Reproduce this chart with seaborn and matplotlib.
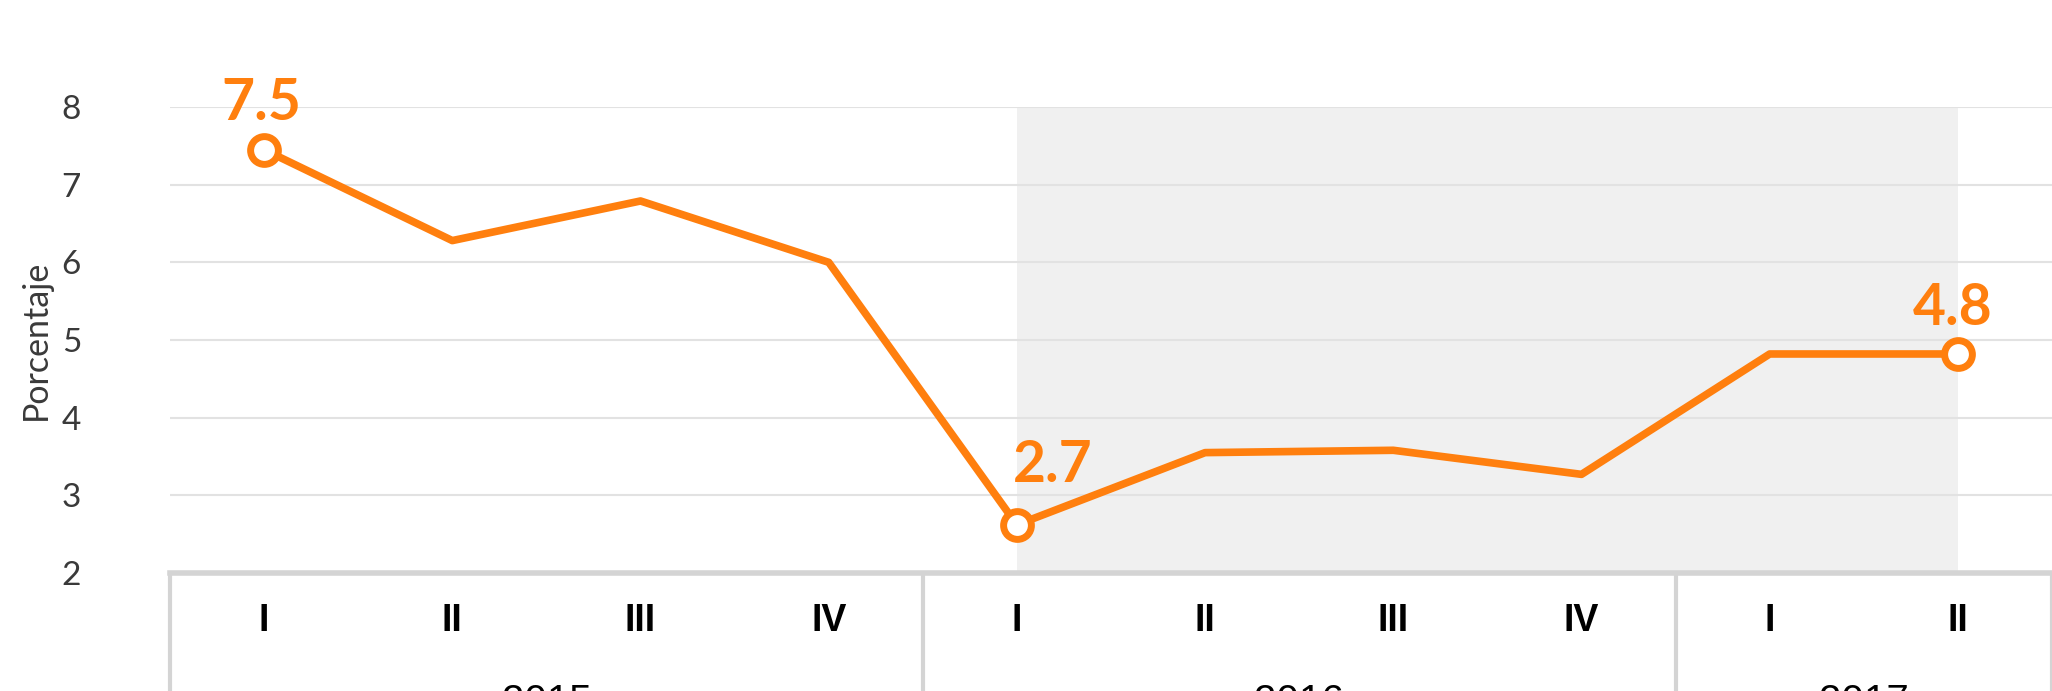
import numpy as np
import pandas as pd
import seaborn as sns
import matplotlib.pyplot as plt

# data
quarters = ['I', 'II', 'III', 'IV', 'I', 'II', 'III', 'IV', 'I', 'II']
years = ['2015', '2016', '2017']
year_sizes = [4, 4, 2]
values = [7.45, 6.28, 6.79, 6.0, 2.62, 3.55, 3.58, 3.27, 4.82, 4.82]
labelled = [0, 4, 9]
label_text = ['7.5', '2.7', '4.8']
label_offset = [(-2, 14), (26, 24), (-4, 14)]

orange = '#ff7f0e'

sns.set_style('white')
plt.rcParams['font.family'] = ['Lato', 'DejaVu Sans']

data = pd.DataFrame({'pos': np.arange(len(values)), 'val': values})

fig = plt.figure(figsize=(20.52, 6.91), dpi=100)
ax = fig.add_axes([170 / 2052, 1 - 573 / 691, 1 - 170 / 2052, (573 - 107) / 691])

# shaded band
ax.axvspan(4, 9, color='#f0f0f0', zorder=0, lw=0)

sns.lineplot(data=data, x='pos', y='val', color=orange, lw=5.5, ax=ax, zorder=3)
sns.scatterplot(data=data.iloc[labelled], x='pos', y='val', s=400, color='white',
                edgecolor=orange, linewidth=5, ax=ax, zorder=4)

for i, txt, off in zip(labelled, label_text, label_offset):
    ax.annotate(txt, (i, values[i]), xytext=off, textcoords='offset points',
                ha='center', va='bottom', color=orange, fontsize=41,
                fontweight='bold', annotation_clip=False)

ax.set_xlim(-0.5, 9.5)
ax.set_ylim(2, 8)
ax.set_yticks(range(2, 9))
ax.yaxis.grid(True, color='#e2e2e2', lw=1.5)
ax.set_axisbelow(True)
ax.tick_params(axis='y', length=0, pad=64, labelsize=24, labelcolor='#3a3a3a')
ax.set_ylabel('Porcentaje', fontsize=24.5, color='#3a3a3a')
ax.yaxis.set_label_coords(-0.063, 0.5)

for s in ['top', 'right', 'left']:
    ax.spines[s].set_visible(False)
ax.spines['bottom'].set_color('#d4d4d4')
ax.spines['bottom'].set_linewidth(4)
ax.spines['bottom'].set_zorder(5)

# category axis drawn as a grouped table below
ax.set_xticks([])
ax.set_xlabel('')
xt = ax.get_xaxis_transform()
for i, q in enumerate(quarters):
    ax.text(i, -0.103, q, transform=xt, ha='center', va='center', fontsize=27,
            family='Liberation Sans', fontweight='bold', color='black', clip_on=False)

start = -0.5
ax.plot([start, start], [0, -0.5], transform=xt, color='#d4d4d4', lw=3, clip_on=False)
for y, n in zip(years, year_sizes):
    ax.text(start + n / 2, -0.237, y, transform=xt, ha='center', va='top',
            fontsize=29, family='Liberation Sans', color='black', clip_on=False)
    start += n
    ax.plot([start, start], [0, -0.5], transform=xt, color='#d4d4d4', lw=3,
            clip_on=False)

fig.savefig('out.png', dpi=100)
